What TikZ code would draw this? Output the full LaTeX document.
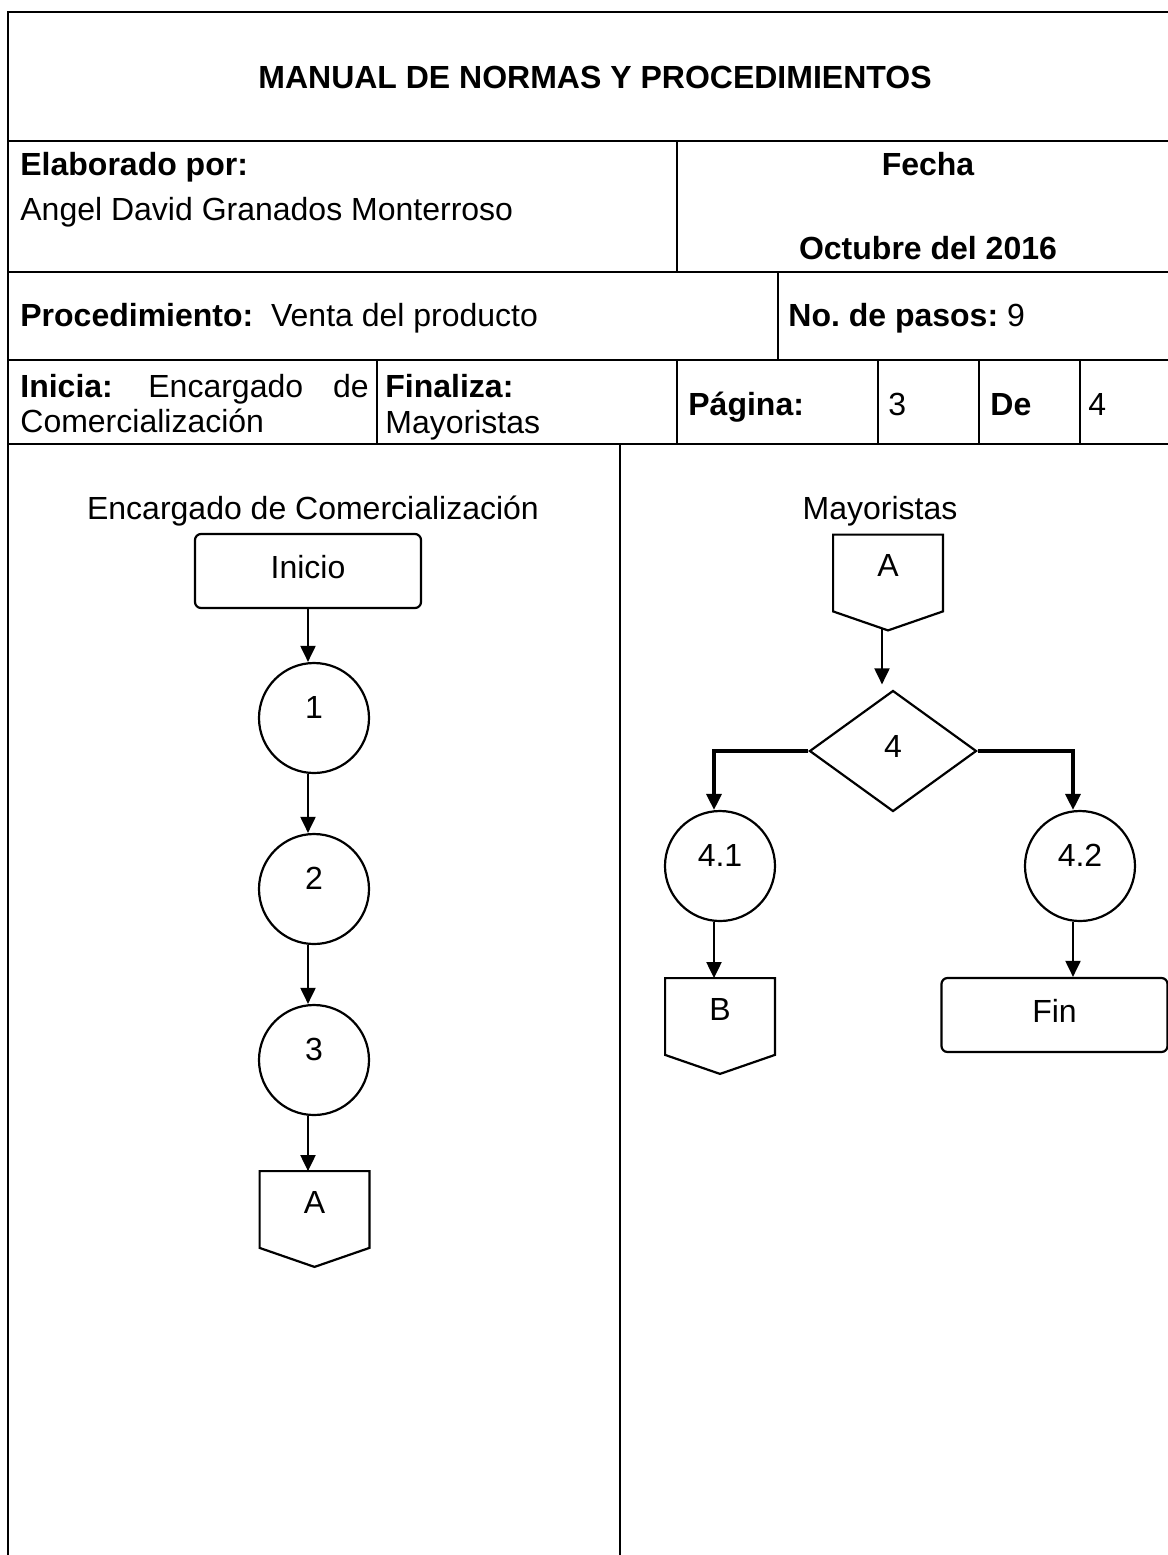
\documentclass[tikz,border=0pt]{standalone}
\usepackage{fontspec}
\setmainfont{Liberation Sans}
\usetikzlibrary{arrows.meta,shapes.geometric,calc}
\newcommand{\mysixteen}{\fontsize{16pt}{19pt}\selectfont}
\frenchspacing
\begin{document}
\begin{tikzpicture}[x=0.5pt,y=-0.5pt,
  frame/.style={line width=1.35pt},
  txt/.style={inner sep=0pt,anchor=base west,font=\mysixteen},
  btxt/.style={txt,font=\mysixteen\bfseries},
  shp/.style={draw,line width=1.1pt,inner sep=0pt,font=\mysixteen},
  term/.style={shp,rounded corners=3pt,minimum width=113pt,minimum height=37pt,text height=11.5pt,text depth=4pt},
  proc/.style={shp,circle,minimum size=55pt,text height=11.5pt,text depth=11pt},
  offp/.style={inner sep=0pt,font=\mysixteen,minimum width=54.5pt,minimum height=38pt,text height=11.5pt,text depth=8pt},
  dec/.style={shp,diamond,minimum width=83.5pt,minimum height=60.5pt,text height=11.5pt,text depth=5pt},
  arr/.style={line width=1pt,-{Triangle[length=8pt,width=7.5pt]}},
  arrb/.style={line width=1.6pt,-{Triangle[length=8pt,width=7.5pt]}}
]
\useasboundingbox (0,0) rectangle (1168,1555);
\fill[white] (0,0) rectangle (1168,1555);

% ---- frame and header grid
\draw[frame] (8,1560) -- (8,12) -- (1170,12);
\foreach \yy in {141,272,360,444} \draw[frame] (8,\yy) -- (1170,\yy);
\draw[frame] (677,141) -- (677,272);
\draw[frame] (778,272) -- (778,360);
\draw[frame] (377,360) -- (377,444);
\draw[frame] (677,360) -- (677,444);
\draw[frame] (878,360) -- (878,444);
\draw[frame] (979,360) -- (979,444);
\draw[frame] (1080,360) -- (1080,444);
\draw[frame] (620,444) -- (620,1560);

% ---- header texts
\node[btxt] (title) at (258,88) {MANUAL DE NORMAS Y PROCEDIMIENTOS};
\node[btxt] (elab) at (20,175) {Elaborado por:};
\node[txt] (autor) at (20,220) {Angel David Granados Monterroso};
\node[btxt,anchor=base] (fecha) at (928,175) {Fecha};
\node[btxt,anchor=base] (octu) at (928,259) {Octubre del 2016};
\node[txt] (proced) at (20,326) {\textbf{Procedimiento:}\ \ Venta del producto};
\node[txt] (pasos) at (788,326) {\textbf{No. de pasos:} 9};
\node[btxt] (inicia) at (20,397) {Inicia:};
\node[txt] (encar) at (148,397) {Encargado};
\node[txt,anchor=base east] (dde) at (369,397) {de};
\node[txt] (comer) at (20,432) {Comercialización};
\node[btxt] (finaliza) at (385,397) {Finaliza:};
\node[txt] (mayor) at (385,433) {Mayoristas};
\node[btxt] (pagina) at (688,415) {Página:};
\node[txt] (tres) at (888,415) {3};
\node[btxt] (de) at (990,415) {De};
\node[txt] (cuatro) at (1088,415) {4};

% ---- lane titles
\node[txt,anchor=base] (lane1) at (313,519) {Encargado de Comercialización};
\node[txt,anchor=base] (lane2) at (880,519) {Mayoristas};

% ---- left lane
\node[term] (ini) at (308,571) {Inicio};
\node[proc] (c1) at (314,718) {1};
\node[proc] (c2) at (314,889) {2};
\node[proc] (c3) at (314,1060) {3};
\node[offp] (A1) at (314.5,1209.5) {A};
\draw[line width=1.1pt] (A1.north west) -- (A1.north east) -- (A1.south east) -- ($(A1.south)+(0,19)$) -- (A1.south west) -- cycle;

\coordinate (lx) at (308,0);
\draw[arr] (ini.south) -- (ini.south |- c1.north);
\draw[arr] (c1.south -| lx) -- (c2.north -| lx);
\draw[arr] (c2.south -| lx) -- (c3.north -| lx);
\draw[arr] (c3.south -| lx) -- (A1.north -| lx);

% ---- right lane
\node[offp] (A2) at (888,573) {A};
\draw[line width=1.1pt] (A2.north west) -- (A2.north east) -- (A2.south east) -- ($(A2.south)+(0,19)$) coordinate (A2tip) -- (A2.south west) -- cycle;
\node[dec] (d4) at (893,751) {4};
\node[proc] (c41) at (720,866) {4.1};
\node[proc] (c42) at (1080,866) {4.2};
\node[offp] (B) at (720,1016.5) {B};
\draw[line width=1.1pt] (B.north west) -- (B.north east) -- (B.south east) -- ($(B.south)+(0,19)$) -- (B.south west) -- cycle;
\node[term] (fin) at (1054.5,1015) {Fin};

\coordinate (rx) at (882,0);
\coordinate (lb) at (714,0);
\coordinate (rb) at (1073,0);
\draw[arr] ($(A2tip -| rx)+(0,-2)$) -- ($(d4.north -| rx)+(0,-5)$);
\draw[arrb] (d4.west) -| (c41.north -| lb);
\draw[arrb] (d4.east) -| (c42.north -| rb);
\draw[arr] (c41.south -| lb) -- (B.north -| lb);
\draw[arr] (c42.south -| rb) -- (fin.north -| rb);
\end{tikzpicture}
\end{document}
